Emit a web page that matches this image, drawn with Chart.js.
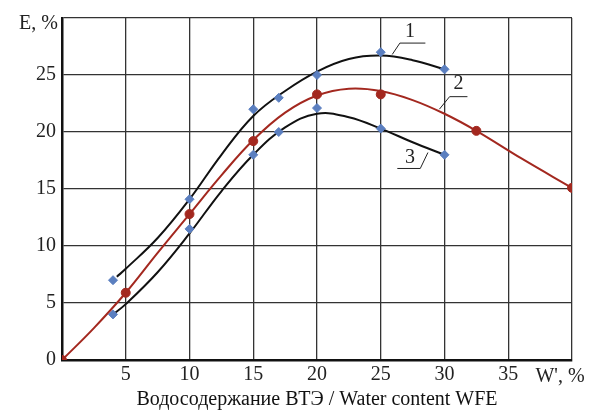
<!DOCTYPE html>
<html>
<head>
<meta charset="utf-8">
<script src="https://cdn.jsdelivr.net/npm/chart.js@4"></script>
<style>
  html, body { margin: 0; padding: 0; background: #fff; }
  #wrap { width: 601px; height: 412px; }
</style>
</head>
<body>
<div id="wrap"><canvas id="myChart" width="601" height="412"></canvas></div>
<script>
// measured points, curve 1 (blue diamonds)
const x1 = [4, 10, 15, 17, 20, 25, 30];
const e1 = [7, 14.1, 22, 23, 25, 27, 25.5];
// measured points, curve 2 (red dots)
const x2 = [0, 5, 10, 15, 20, 25, 32.5, 40];
const e2 = [0, 5.9, 12.8, 19.2, 23.3, 23.3, 20.1, 15.1];
// measured points, curve 3 (blue diamonds)
const x3 = [4, 10, 15, 17, 20, 25, 30];
const e3 = [4, 11.5, 18, 20, 22.1, 20.3, 18];

// the drawn (fitted) curves, read along the lines of the picture
const c1x = [4.3, 5, 7.5, 10, 12.5, 15, 17.5, 20, 22.5, 25, 27.5, 30];
const c1e = [7.3, 8.0, 10.7, 14.1, 18.0, 21.4, 23.6, 25.3, 26.4, 26.7, 26.3, 25.5];
const c2x = [0, 2.5, 5, 7.5, 10, 12.5, 15, 17.5, 20, 22.5, 25, 27.5, 30, 32.5, 36, 40];
const c2e = [0, 2.8, 5.9, 9.4, 12.8, 16.2, 19.3, 21.7, 23.2, 23.8, 23.6, 22.8, 21.6, 20.1, 17.7, 15.1];
const c3x = [4, 5, 7.5, 10, 12.5, 15, 17.5, 20, 22.5, 25, 27.5, 30];
const c3e = [4, 4.9, 7.7, 11.1, 14.8, 18.0, 20.4, 21.6, 21.3, 20.3, 19.1, 18.0];

const xTicks = [5, 10, 15, 20, 25, 30, 35];
const yTicks = [0, 5, 10, 15, 20, 25];
const xUnit = "W', %";
const yUnit = 'E, %';
const xTitle = 'Водосодержание ВТЭ / Water content WFE';

const serif = '"Liberation Serif", "Times New Roman", serif';
const blue = '#5b7fc0';
const red = '#a3281f';
const black = '#111';

const toPts = (xs, ys) => xs.map((x, i) => ({ x: x, y: ys[i] }));

// curve number tags with leader lines, in data units
const tags = [
  { text: '1', at: [27.3, 28.8], line: [[25.9, 26.8], [26.5, 27.8], [28.5, 27.8]] },
  { text: '2', at: [31.1, 24.2], line: [[29.6, 22.0], [30.4, 23.1], [31.8, 23.1]] },
  { text: '3', at: [27.3, 17.7], line: [[26.3, 16.8], [28.1, 16.8], [28.7, 18.2]] }
];

const tagPlugin = {
  id: 'tags',
  afterDatasetsDraw(chart) {
    const { ctx, scales: { x, y } } = chart;
    ctx.save();
    ctx.strokeStyle = '#222';
    ctx.lineWidth = 1;
    ctx.fillStyle = '#222';
    ctx.font = '20px ' + serif;
    ctx.textAlign = 'center';
    ctx.textBaseline = 'middle';
    tags.forEach(t => {
      ctx.beginPath();
      t.line.forEach((p, i) => {
        const px = x.getPixelForValue(p[0]), py = y.getPixelForValue(p[1]);
        if (i === 0) ctx.moveTo(px, py); else ctx.lineTo(px, py);
      });
      ctx.stroke();
      ctx.fillText(t.text, x.getPixelForValue(t.at[0]), y.getPixelForValue(t.at[1]));
    });
    // axis units
    ctx.textAlign = 'right';
    ctx.fillText(yUnit, x.left - 4, y.top + 6);
    ctx.textAlign = 'center';
    ctx.fillText(xUnit, x.right - 12, y.bottom + 17);
    ctx.restore();
  }
};

const curve = (xs, ys, color) => ({
  data: toPts(xs, ys), showLine: true, tension: 0.4, order: 2,
  borderColor: color, borderWidth: 2, pointRadius: 0
});
const marks = (xs, ys, color, style) => ({
  data: toPts(xs, ys), showLine: false, order: 1,
  pointStyle: style, pointRadius: 4.5, pointBackgroundColor: color, pointBorderColor: color
});

const ctx = document.getElementById('myChart');
new Chart(ctx, {
  type: 'scatter',
  data: {
    datasets: [
      curve(c1x, c1e, black),
      curve(c2x, c2e, red),
      curve(c3x, c3e, black),
      marks(x1, e1, blue, 'rectRot'),
      marks(x2, e2, red, 'circle'),
      marks(x3, e3, blue, 'rectRot')
    ]
  },
  options: {
    responsive: false,
    animation: false,
    layout: { padding: { top: 16, right: 29, left: 0, bottom: 0 } },
    plugins: { legend: { display: false }, tooltip: { enabled: false } },
    scales: {
      x: {
        type: 'linear', min: 0, max: 40,
        afterBuildTicks: s => { s.ticks = [0].concat(xTicks, [40]).map(v => ({ value: v })); },
        afterFit: s => { s.height = 52; },
        ticks: {
          color: '#222', font: { family: serif, size: 20 }, padding: 3,
          callback: v => xTicks.includes(v) ? String(v) : ''
        },
        grid: { color: '#333', lineWidth: 1.3, drawTicks: false },
        border: { color: '#111', width: 2.5 },
        title: { display: true, text: xTitle, color: '#111', font: { family: serif, size: 20 }, padding: 0 }
      },
      y: {
        type: 'linear', min: 0, max: 30,
        afterBuildTicks: s => { s.ticks = yTicks.concat([30]).map(v => ({ value: v })); },
        afterFit: s => { s.width = 62; },
        ticks: {
          color: '#222', font: { family: serif, size: 20 }, padding: 6,
          callback: v => yTicks.includes(v) ? String(v) : ''
        },
        grid: { color: '#333', lineWidth: 1.3, drawTicks: false },
        border: { color: '#111', width: 2.5 }
      }
    }
  },
  plugins: [tagPlugin]
});
</script>
</body>
</html>
